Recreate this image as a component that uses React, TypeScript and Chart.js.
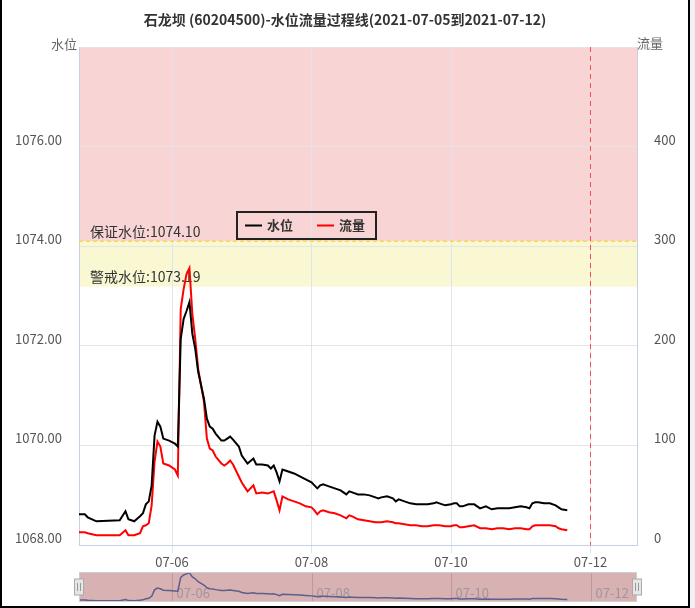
import React, { useEffect, useRef } from "react";
import { Chart, registerables } from "chart.js";

Chart.register(...registerables);

const YEAR = 2021;
const TITLE = "石龙坝 (60204500)-水位流量过程线(2021-07-05到2021-07-12)";
const seriesNames = ["水位", "流量"];
const axisNames = ["水位", "流量"];

const times = [
  "07-04 16:00", "07-04 18:00", "07-04 19:00", "07-04 22:00", "07-05 02:00", "07-05 06:00",
  "07-05 08:00", "07-05 09:00", "07-05 11:00", "07-05 13:00", "07-05 14:00", "07-05 15:00",
  "07-05 16:00", "07-05 17:00", "07-05 18:00", "07-05 19:00", "07-05 20:00", "07-05 21:00",
  "07-05 23:00", "07-06 01:00", "07-06 02:00", "07-06 03:00", "07-06 04:00", "07-06 05:00",
  "07-06 06:00", "07-06 07:00", "07-06 08:00", "07-06 09:00", "07-06 11:00", "07-06 12:00",
  "07-06 13:00", "07-06 14:00", "07-06 15:00", "07-06 17:00", "07-06 18:00", "07-06 19:00",
  "07-06 20:00", "07-06 21:00", "07-06 23:00", "07-07 00:00", "07-07 02:00", "07-07 04:00",
  "07-07 05:00", "07-07 07:00", "07-07 09:00", "07-07 10:00", "07-07 11:00", "07-07 12:00",
  "07-07 13:00", "07-07 14:00", "07-07 16:00", "07-07 18:00", "07-07 20:00", "07-07 22:00",
  "07-08 00:00", "07-08 01:00", "07-08 02:00", "07-08 03:00", "07-08 04:00", "07-08 06:00",
  "07-08 08:00", "07-08 10:00", "07-08 12:00", "07-08 13:00", "07-08 14:00", "07-08 16:00",
  "07-08 18:00", "07-08 20:00", "07-08 22:00", "07-08 23:00", "07-09 00:00", "07-09 02:00",
  "07-09 04:00", "07-09 05:00", "07-09 06:00", "07-09 08:00", "07-09 10:00", "07-09 12:00",
  "07-09 14:00", "07-09 16:00", "07-09 18:00", "07-09 19:00", "07-09 20:00", "07-09 22:00",
  "07-10 00:00", "07-10 01:00", "07-10 02:00", "07-10 03:00", "07-10 04:00", "07-10 06:00",
  "07-10 08:00", "07-10 10:00", "07-10 12:00", "07-10 14:00", "07-10 16:00", "07-10 18:00",
  "07-10 20:00", "07-10 22:00", "07-11 00:00", "07-11 02:00", "07-11 03:00", "07-11 04:00",
  "07-11 05:00", "07-11 06:00", "07-11 08:00", "07-11 10:00", "07-11 12:00", "07-11 13:00",
  "07-11 14:00", "07-11 16:00",
];

const waterLevel = [
  1068.62, 1068.62, 1068.56, 1068.48, 1068.49, 1068.50,
  1068.68, 1068.52, 1068.48, 1068.58, 1068.64, 1068.82,
  1068.88, 1069.20, 1070.20, 1070.48, 1070.38, 1070.14,
  1070.10, 1070.04, 1069.98, 1072.14, 1072.54, 1072.70,
  1072.88, 1072.24, 1071.94, 1071.48, 1070.94, 1070.54,
  1070.38, 1070.34, 1070.24, 1070.10, 1070.10, 1070.14,
  1070.18, 1070.12, 1069.98, 1069.80, 1069.64, 1069.74,
  1069.62, 1069.62, 1069.60, 1069.54, 1069.60, 1069.46,
  1069.28, 1069.52, 1069.48, 1069.44, 1069.38, 1069.32,
  1069.26, 1069.20, 1069.14, 1069.20, 1069.22, 1069.18,
  1069.14, 1069.10, 1069.02, 1069.08, 1069.06, 1069.02,
  1069.02, 1069.00, 1068.96, 1068.94, 1068.96, 1068.98,
  1068.94, 1068.88, 1068.92, 1068.88, 1068.84, 1068.82,
  1068.82, 1068.82, 1068.84, 1068.86, 1068.84, 1068.80,
  1068.82, 1068.84, 1068.84, 1068.78, 1068.78, 1068.82,
  1068.82, 1068.74, 1068.78, 1068.72, 1068.74, 1068.74,
  1068.74, 1068.76, 1068.78, 1068.76, 1068.74, 1068.84,
  1068.86, 1068.86, 1068.84, 1068.84, 1068.80, 1068.76,
  1068.72, 1068.70,
];

const flow = [
  13, 13, 12, 10, 10, 10,
  15, 10, 10, 12, 19, 20,
  22, 40, 84, 104, 99, 82,
  80, 76, 70, 237, 257, 272,
  278, 232, 207, 177, 144, 107,
  97, 95, 89, 82, 80, 82,
  85, 81, 69, 63, 54, 60,
  52, 53, 52, 53, 54, 45,
  35, 49, 46, 44, 42, 39,
  38, 35, 31, 34, 35, 33,
  32, 30, 27, 30, 29, 26,
  25, 24, 23, 23, 23, 24,
  23, 22, 22, 21, 20, 20,
  19, 19, 20, 20, 20, 19,
  19, 20, 20, 18, 18, 19,
  20, 17, 17, 16, 17, 17,
  16, 17, 17, 16, 16, 19,
  20, 20, 20, 20, 19, 17,
  16, 15,
];

const xTickLabels = ["07-06", "07-08", "07-10", "07-12"];
const rangeStart = "07-04 16:00";
const rangeEnd = "07-12 16:00";
const markerTime = "07-12 00:00";
const guaranteeLevel = 1074.1;
const warningLevel = 1073.19;
const guaranteeText = "保证水位:1074.10";
const warningText = "警戒水位:1073.19";
const levelMin = 1068;
const levelMax = 1078;
const levelStep = 2;
const flowMin = 0;
const flowMax = 500;
const flowStep = 100;

const FONT = '"Noto Sans CJK SC", "Noto Sans", sans-serif';

function toMs(s: string): number {
  const [md, hm] = s.split(" ");
  const [mo, d] = md.split("-").map(Number);
  const [h, mi] = (hm || "00:00").split(":").map(Number);
  return Date.UTC(YEAR, mo - 1, d, h, mi);
}

const xTickValues = xTickLabels.map((l) => toMs(l + " 00:00"));
const xMin = toMs(rangeStart);
const xMax = toMs(rangeEnd);

const mainPlugin = {
  id: "mainDecor",
  beforeDraw(chart: any) {
    const { ctx, chartArea: a, scales } = chart;
    const y = scales.yL;
    const yG = y.getPixelForValue(guaranteeLevel);
    const yW = y.getPixelForValue(warningLevel);
    ctx.save();
    ctx.fillStyle = "#f8d4d5";
    ctx.fillRect(a.left, a.top, a.right - a.left, yG - a.top);
    ctx.fillStyle = "#f9f8d3";
    ctx.fillRect(a.left, yG, a.right - a.left, yW - yG);
    ctx.restore();
  },
  beforeDatasetsDraw(chart: any) {
    const { ctx, chartArea: a, scales } = chart;
    const y = scales.yL;
    const x = scales.x;
    const yG = y.getPixelForValue(guaranteeLevel);
    const yW = y.getPixelForValue(warningLevel);
    ctx.save();
    // guarantee dashed line
    ctx.strokeStyle = "#f2dc4a";
    ctx.lineWidth = 1.5;
    ctx.setLineDash([4, 3]);
    ctx.beginPath();
    ctx.moveTo(a.left, yG);
    ctx.lineTo(a.right, yG);
    ctx.stroke();
    // marker vertical line
    const xm = x.getPixelForValue(toMs(markerTime));
    ctx.strokeStyle = "#ff4a4a";
    ctx.lineWidth = 1;
    ctx.setLineDash([5, 4]);
    ctx.beginPath();
    ctx.moveTo(xm, a.top);
    ctx.lineTo(xm, a.bottom);
    ctx.stroke();
    ctx.setLineDash([]);
    // texts
    ctx.fillStyle = "#333";
    ctx.font = `14px ${FONT}`;
    ctx.textAlign = "left";
    ctx.textBaseline = "middle";
    ctx.fillText(guaranteeText, a.left + 11, yG - 9.5);
    ctx.fillText(warningText, a.left + 11, yW - 9.5);
    ctx.restore();
  },
  afterDraw(chart: any) {
    const { ctx, chartArea: a } = chart;
    ctx.save();
    // title
    ctx.fillStyle = "#333";
    ctx.font = `bold 14px ${FONT}`;
    ctx.textAlign = "center";
    ctx.textBaseline = "middle";
    ctx.fillText(TITLE, 345, 20);
    // axis names
    ctx.fillStyle = "#666";
    ctx.font = `13px ${FONT}`;
    ctx.textAlign = "right";
    ctx.fillText(axisNames[0], a.left - 2, a.top - 3);
    ctx.textAlign = "left";
    ctx.fillText(axisNames[1], a.right, a.top - 4);
    // legend
    const lx = 237, ly = 212, lw = 139, lh = 27;
    ctx.strokeStyle = "#222";
    ctx.lineWidth = 2;
    ctx.strokeRect(lx, ly, lw, lh);
    const cy = ly + lh / 2;
    const colors = ["#000", "#ff0000"];
    const starts = [lx + 8, lx + 80];
    ctx.font = `bold 13px ${FONT}`;
    ctx.textAlign = "left";
    for (let i = 0; i < 2; i++) {
      ctx.strokeStyle = colors[i];
      ctx.lineWidth = 2;
      ctx.beginPath();
      ctx.moveTo(starts[i], cy);
      ctx.lineTo(starts[i] + 17, cy);
      ctx.stroke();
      ctx.fillStyle = "#333";
      ctx.fillText(seriesNames[i], starts[i] + 22, cy);
    }
    ctx.restore();
  },
};

const miniPlugin = {
  id: "miniDecor",
  beforeDraw(chart: any) {
    const { ctx, chartArea: a, scales } = chart;
    ctx.save();
    ctx.fillStyle = "#d8b1b3";
    ctx.fillRect(a.left, a.top, a.right - a.left, a.bottom - a.top);
    ctx.strokeStyle = "rgba(190,150,152,0.9)";
    ctx.lineWidth = 1;
    ctx.font = `13px ${FONT}`;
    ctx.textAlign = "left";
    ctx.textBaseline = "middle";
    xTickValues.forEach((v, i) => {
      const px = Math.round(scales.x.getPixelForValue(v)) + 0.5;
      ctx.beginPath();
      ctx.moveTo(px, a.top);
      ctx.lineTo(px, a.bottom);
      ctx.stroke();
      ctx.fillStyle = "rgba(140,140,150,0.75)";
      ctx.fillText(xTickLabels[i], px + 4, a.bottom - 9);
    });
    ctx.restore();
  },
  afterDraw(chart: any) {
    const { ctx, chartArea: a } = chart;
    ctx.save();
    ctx.strokeStyle = "#cfcfcf";
    ctx.lineWidth = 1;
    ctx.strokeRect(a.left + 0.5, a.top + 0.5, a.right - a.left - 1, a.bottom - a.top - 1);
    const hy = a.top + 7, hh = 16;
    [a.left, a.right].forEach((cx) => {
      ctx.fillStyle = "#e6e6e6";
      ctx.strokeStyle = "#aaa";
      ctx.fillRect(cx - 4.5, hy, 9, hh);
      ctx.strokeRect(cx - 4.5, hy, 9, hh);
      ctx.strokeStyle = "#999";
      ctx.beginPath();
      ctx.moveTo(cx - 1.5, hy + 4);
      ctx.lineTo(cx - 1.5, hy + hh - 4);
      ctx.moveTo(cx + 1.5, hy + 4);
      ctx.lineTo(cx + 1.5, hy + hh - 4);
      ctx.stroke();
    });
    ctx.restore();
  },
};

export default function App() {
  const mainRef = useRef<HTMLCanvasElement | null>(null);
  const miniRef = useRef<HTMLCanvasElement | null>(null);

  useEffect(() => {
    Chart.defaults.font.family = FONT;
    const levelPts = times.map((t, i) => ({ x: toMs(t), y: waterLevel[i] }));
    const flowPts = times.map((t, i) => ({ x: toMs(t), y: flow[i] }));
    const axisBorder = "#c4d2e2";

    const main = new Chart(mainRef.current as HTMLCanvasElement, {
      type: "line",
      data: {
        datasets: [
          {
            label: seriesNames[0],
            data: levelPts,
            borderColor: "#000",
            borderWidth: 2,
            pointRadius: 0,
            tension: 0,
            yAxisID: "yL",
          },
          {
            label: seriesNames[1],
            data: flowPts,
            borderColor: "#ff0000",
            borderWidth: 2,
            pointRadius: 0,
            tension: 0,
            yAxisID: "yR",
          },
        ],
      },
      options: {
        responsive: false,
        animation: false,
        layout: { padding: { top: 47, left: 0, right: 0, bottom: 0 } },
        plugins: { legend: { display: false }, tooltip: { enabled: false } },
        scales: {
          x: {
            type: "linear",
            min: xMin,
            max: xMax,
            afterBuildTicks: (s: any) => {
              s.ticks = xTickValues.map((v) => ({ value: v }));
            },
            afterFit: (s: any) => {
              s.height = 23;
            },
            grid: { color: "#dde4ee", tickLength: 8, drawTicks: true },
            border: { color: axisBorder },
            ticks: {
              autoSkip: false,
              maxRotation: 0,
              padding: 1,
              color: "#555",
              font: { size: 13 },
              callback: (v: any) => {
                const i = xTickValues.indexOf(Number(v));
                return i >= 0 ? xTickLabels[i] : "";
              },
            },
          },
          yL: {
            type: "linear",
            position: "left",
            min: levelMin,
            max: levelMax,
            afterFit: (s: any) => {
              s.width = 79;
            },
            grid: { color: "#e4e4e4", drawTicks: false },
            border: { color: axisBorder },
            ticks: {
              stepSize: levelStep,
              padding: 17,
              labelOffset: -7,
              color: "#555",
              font: { size: 13 },
              callback: (v: any) => (Number(v) === levelMax ? "" : Number(v).toFixed(2)),
            },
          },
          yR: {
            type: "linear",
            position: "right",
            min: flowMin,
            max: flowMax,
            afterFit: (s: any) => {
              s.width = 58;
            },
            grid: { drawOnChartArea: false, drawTicks: false },
            border: { color: axisBorder },
            ticks: {
              stepSize: flowStep,
              padding: 17,
              labelOffset: -7,
              color: "#555",
              font: { size: 13 },
              callback: (v: any) => (Number(v) === flowMax ? "" : String(v)),
            },
          },
        },
      },
      plugins: [mainPlugin],
    } as any);

    const mini = new Chart(miniRef.current as HTMLCanvasElement, {
      type: "line",
      data: {
        datasets: [
          {
            data: levelPts,
            borderColor: "#5c5f8c",
            borderWidth: 1.5,
            pointRadius: 0,
            tension: 0,
          },
        ],
      },
      options: {
        responsive: false,
        animation: false,
        layout: { padding: { top: 1, left: 79, right: 58, bottom: 2 } },
        plugins: { legend: { display: false }, tooltip: { enabled: false } },
        scales: {
          x: { type: "linear", min: xMin, max: xMax, display: false },
          y: { type: "linear", min: 1068.3, max: 1073.0, display: false },
        },
      },
      plugins: [miniPlugin],
    } as any);

    return () => {
      main.destroy();
      mini.destroy();
    };
  }, []);

  return (
    <div
      style={{
        position: "absolute",
        left: 0,
        top: 0,
        width: 695,
        height: 608,
        background: "#eef1f5",
        overflow: "hidden",
      }}
    >
      <div
        style={{
          position: "absolute",
          left: 0,
          top: 0,
          width: 690,
          height: 608,
          boxSizing: "border-box",
          background: "#fff",
          borderLeft: "2px solid #000",
          borderRight: "2px solid #000",
          borderBottom: "2px solid #000",
        }}
      />
      <canvas
        ref={mainRef}
        width={695}
        height={570}
        style={{ position: "absolute", left: 0, top: 0, width: 695, height: 570 }}
      />
      <canvas
        ref={miniRef}
        width={695}
        height={33}
        style={{ position: "absolute", left: 0, top: 571, width: 695, height: 33 }}
      />
    </div>
  );
}
